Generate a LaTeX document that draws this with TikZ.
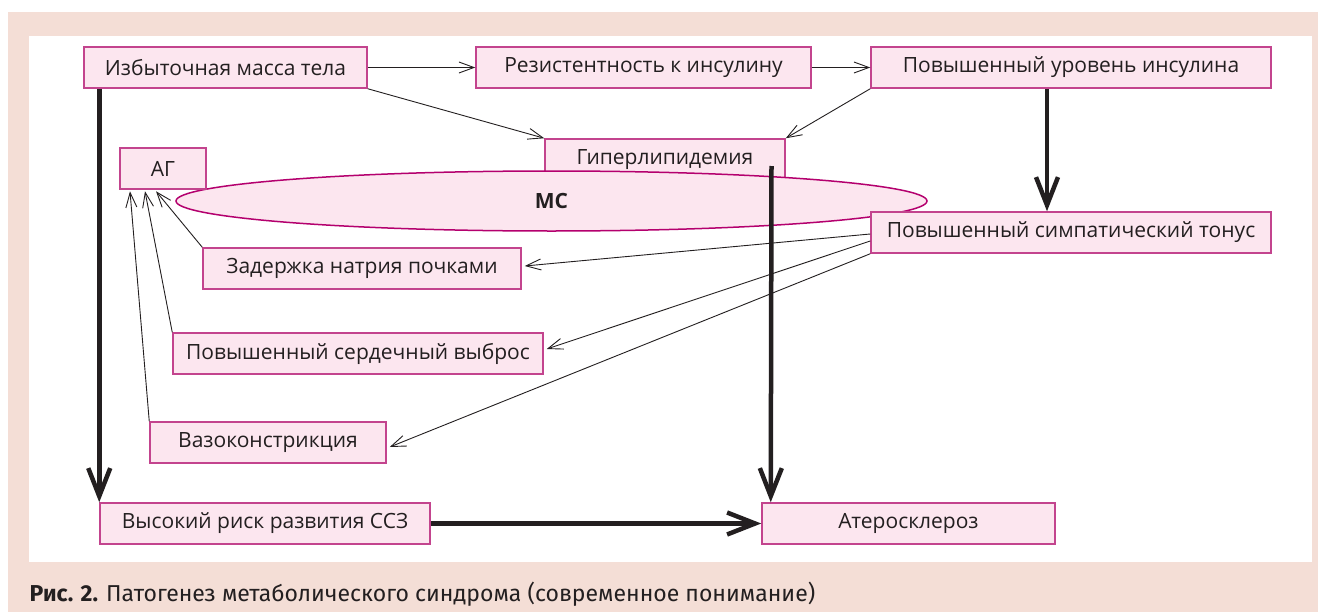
\documentclass[tikz,border=0pt]{standalone}
\usepackage{fontspec}
\setmainfont{Open Sans}
\newfontfamily\capfont{Fira Sans}
\usetikzlibrary{arrows.meta,shapes.geometric}
\definecolor{boxfill}{HTML}{FCE6EF}
\definecolor{boxline}{HTML}{C3448E}
\definecolor{msline}{HTML}{B4006E}
\definecolor{peach}{HTML}{F4DED6}
\definecolor{ink}{HTML}{231F20}
\tikzset{
  box/.style={draw=boxline, fill=boxfill, line width=1.5pt, minimum height=41pt,
    inner sep=0pt, text=ink, font=\fontsize{21}{25}\selectfont},
  thin arrow/.style={draw=ink, line width=0.9pt, -{Straight Barb[length=15pt,width=11pt]}},
  thick arrow/.style={draw=ink, line width=4.5pt, -{Straight Barb[length=28pt,width=22pt]}},
}
\begin{document}
\begin{tikzpicture}[x=1pt,y=-1pt]
  \useasboundingbox (0,0) rectangle (1318,613);
  \fill[peach] (8,12) rectangle (1318,612);
  \fill[white] (29,36) rectangle (1312,562);
  % boxes
  \node[box, minimum width=240pt] (giper) at (665,159.5) {Гиперлипидемия};
  \node[ellipse, draw=msline, fill=boxfill, line width=1.5pt, minimum width=751pt,
    minimum height=60pt, inner sep=0pt, text=ink,
    font=\fontsize{21}{25}\selectfont\bfseries] (ms) at (551.5,201) {МС};
  \node[box, minimum width=283pt] (izb) at (225.5,67.5) {Избыточная масса тела};
  \node[box, minimum width=335pt] (rez) at (643.5,67.5) {Резистентность к инсулину};
  \node[box, minimum width=400pt] (urov) at (1071,67.5) {Повышенный уровень инсулина};
  \node[box, minimum width=86pt] (ag) at (163,168.5) {АГ};
  \node[box, minimum width=400pt] (simp) at (1071,232.5) {Повышенный симпатический тонус};
  \node[box, minimum width=318pt] (zad) at (362,268.5) {Задержка натрия почками};
  \node[box, minimum width=370pt] (serd) at (358,353.5) {Повышенный сердечный выброс};
  \node[box, minimum width=236pt] (vazo) at (268,442.5) {Вазоконстрикция};
  \node[box, minimum width=330pt] (risk) at (265,523.5) {Высокий риск развития ССЗ};
  \node[box, minimum width=293pt] (ater) at (908.5,523.5) {Атеросклероз};
  % caption
  \node[anchor=west, inner sep=0pt, text=ink, font=\capfont\fontsize{23}{27}\selectfont] (cap)
    at (29.5,594) {\textbf{Рис. 2.} Патогенез метаболического синдрома (современное понимание)};
  % thin arrows
  \draw[thin arrow] (izb) -- (rez);
  \draw[thin arrow] (rez) -- (urov);
  \draw[thin arrow] (izb.south east) -- (giper.north west);
  \draw[thin arrow] (urov.south west) -- (giper.north east);
  \draw[thin arrow] ([yshift=-1.5pt]simp.west) -- ([xshift=3pt,yshift=2.5pt]zad.east);
  \draw[thin arrow] ([yshift=-8.5pt]simp.west) -- ([xshift=3pt,yshift=4.5pt]serd.east);
  \draw[thin arrow] (simp.south west) -- ([xshift=3pt,yshift=-4.5pt]vazo.east);
  \draw[thin arrow] (zad.north west) -- ([xshift=-7pt,yshift=-1.5pt]ag.south);
  \draw[thin arrow] (serd.north west) -- ([xshift=-18pt,yshift=-1.5pt]ag.south);
  \draw[thin arrow] (vazo.north west) -- ([xshift=-33pt,yshift=-1.5pt]ag.south);
  % thick arrows
  \draw[thick arrow] (izb.south west -| risk.north west) -- (risk.north west);
  \draw[thick arrow] ([xshift=-24pt]urov.south) -- ([xshift=-24pt]simp.north);
  \draw[thick arrow] ([xshift=106.5pt,yshift=-6.5pt]giper.center) -- ([xshift=9.5pt]ater.north west);
  \draw[thick arrow] (risk) -- (ater);
\end{tikzpicture}
\end{document}
